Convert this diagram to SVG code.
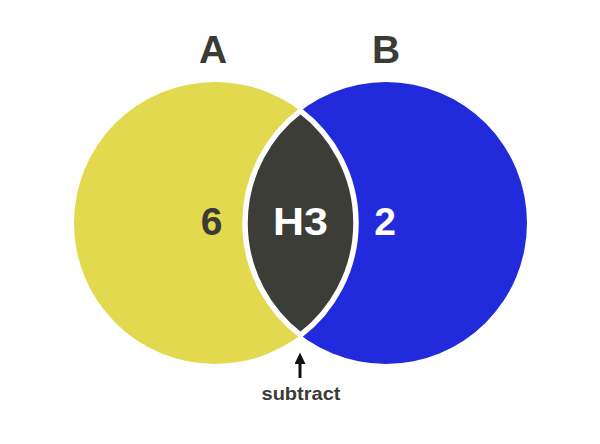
<svg xmlns="http://www.w3.org/2000/svg" width="600" height="444" viewBox="0 0 600 444">
<style>
.lbl{font-family:"Liberation Sans",Arial,sans-serif;font-weight:bold;text-anchor:middle}
.big{font-size:39px}
.dark{fill:#3b3b36}
.white{fill:#ffffff}
</style>
<defs>
<marker id="ah" markerWidth="12" markerHeight="12" refX="0" refY="5.5" orient="auto" markerUnits="userSpaceOnUse">
<path d="M0,0 L11.5,5.5 L0,11 z" fill="#111"/>
</marker>
</defs>
<rect width="600" height="444" fill="#ffffff"/>
<g id="setA">
<circle cx="215" cy="223" r="141" fill="#e3d94f"/>
<text class="lbl big dark" x="213" y="62.5">A</text>
<text class="lbl big dark" x="211.5" y="235">6</text>
</g>
<g id="setB">
<circle cx="386" cy="223" r="141" fill="#222bdb"/>
<text class="lbl big dark" x="386" y="62.5">B</text>
<text class="lbl big white" x="385" y="235">2</text>
</g>
<g id="intersection">
<path d="M300.5,110.9 A141,141 0 0 1 300.5,335.1 A141,141 0 0 1 300.5,110.9 Z" fill="#3d3d37" stroke="#ffffff" stroke-width="5.5" stroke-linejoin="miter" stroke-miterlimit="10"/>
<text class="lbl big white" x="300.5" y="235" textLength="55" lengthAdjust="spacingAndGlyphs">H3</text>
</g>
<g id="connectors">
<line x1="300" y1="378" x2="300" y2="364" stroke="#111" stroke-width="3" marker-end="url(#ah)"/>
</g>
<g id="note">
<text class="lbl dark" x="301" y="400" font-size="18.5" textLength="79" lengthAdjust="spacingAndGlyphs">subtract</text>
</g>
</svg>
